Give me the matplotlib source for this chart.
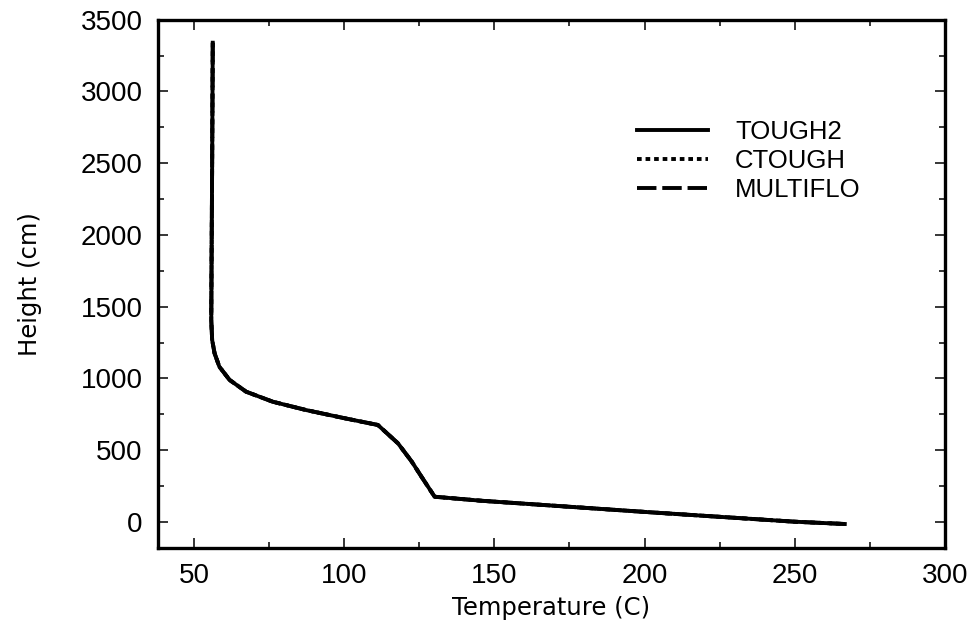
import numpy as np
import matplotlib.pyplot as plt
from matplotlib.ticker import MultipleLocator

plt.rcParams['font.family'] = ['Liberation Sans', 'DejaVu Sans']

# temperature (C) against height (cm) for the three codes
height = [3340, 2500, 1800, 1408, 1268, 1176, 1082, 990, 908, 838, 780,
          723, 676, 548, 420, 316, 176, 148, 67, 2, -14]
temp_tough2 = [56.2, 56.0, 55.8, 55.7, 56.0, 56.8, 58.4, 61.8, 67.3, 76.2, 87.3,
               100.1, 111.2, 117.9, 122.5, 125.7, 130.1, 145.7, 202.3, 250.0, 266.7]
temp_ctough = [56.2, 56.0, 55.8, 55.7, 56.0, 56.8, 58.4, 61.8, 67.3, 76.2, 87.3,
               100.1, 111.2, 117.9, 122.5, 125.7, 130.1, 145.7, 202.3, 250.0, 266.7]
temp_multiflo = [56.2, 56.0, 55.8, 55.7, 56.0, 56.8, 58.4, 61.8, 67.3, 76.2, 87.3,
                 100.1, 111.2, 117.9, 122.5, 125.7, 130.1, 145.7, 202.3, 250.0, 266.7]

fig = plt.figure(figsize=(9.76, 6.37), dpi=100)
ax = fig.add_axes([0.162, 0.140, 0.806, 0.829])

ax.plot(temp_tough2, height, color='black', lw=2.8, ls='-', label='TOUGH2')
ax.plot(temp_ctough, height, color='black', lw=2.8, ls=(0, (1.2, 1.0)), label='CTOUGH')
ax.plot(temp_multiflo, height, color='black', lw=2.8, ls=(0, (5, 1.5)), label='MULTIFLO')

ax.set_xlim(38, 300)
ax.set_ylim(-180, 3500)
ax.xaxis.set_major_locator(MultipleLocator(50))
ax.xaxis.set_minor_locator(MultipleLocator(25))
ax.yaxis.set_major_locator(MultipleLocator(500))
ax.yaxis.set_minor_locator(MultipleLocator(250))
ax.tick_params(which='both', direction='in', top=True, right=True,
               width=1.1, labelsize=20, pad=11)
ax.tick_params(which='major', length=7)
ax.tick_params(which='minor', length=4)
for s in ax.spines.values():
    s.set_linewidth(2.4)

ax.set_xlabel('Temperature (C)', fontsize=17.5, family='DejaVu Sans', labelpad=5)
ax.set_ylabel('Height (cm)', fontsize=17.5, family='DejaVu Sans', labelpad=28)

ax.legend(loc='upper left', bbox_to_anchor=(0.6527, 0.8116),
          bbox_transform=fig.transFigure, frameon=False, borderpad=0,
          borderaxespad=0, fontsize=18.5, handlelength=2.76,
          handletextpad=1.05, labelspacing=0.2)

fig.savefig('out.png', dpi=100)
